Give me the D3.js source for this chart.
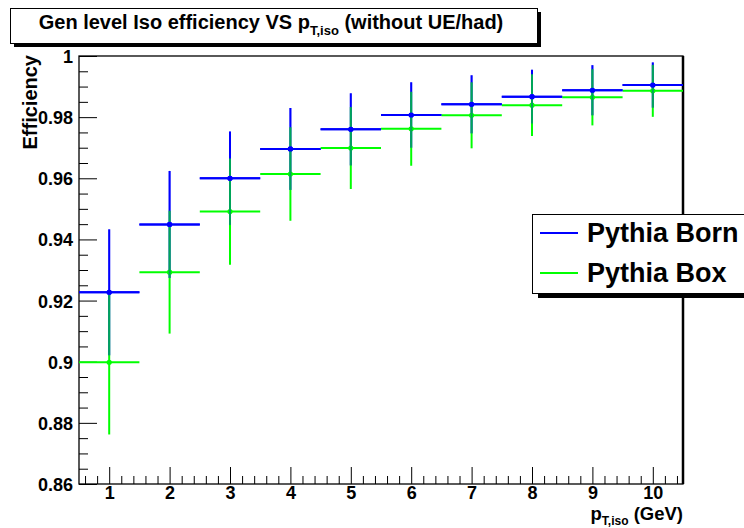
<!DOCTYPE html>
<html>
<head>
<meta charset="utf-8">
<script src="https://cdn.jsdelivr.net/npm/d3@7"></script>
<style>
  html, body { margin: 0; padding: 0; background: #fff; }
  svg { display: block; }
  text { font-family: "Liberation Sans", Arial, Helvetica, sans-serif; font-weight: bold; }
</style>
</head>
<body>
<svg id="chart" width="744" height="528"></svg>
<script>
// ---- data ----
const ptBins = [1, 2, 3, 4, 5, 6, 7, 8, 9, 10];
const bornValues = [0.9227, 0.9449, 0.9600, 0.9696, 0.9760, 0.9807, 0.9842, 0.9867, 0.9888, 0.9905];
const bornErrors = [0.0206, 0.0175, 0.0153, 0.0134, 0.0118, 0.0107, 0.0095, 0.0088, 0.0082, 0.0074];
const boxValues  = [0.8998, 0.9293, 0.9491, 0.9614, 0.9699, 0.9762, 0.9806, 0.9839, 0.9865, 0.9886];
const boxErrors  = [0.0236, 0.0201, 0.0174, 0.0153, 0.0134, 0.0121, 0.0108, 0.0101, 0.0092, 0.0085];
const binHalfWidth = 0.5;
const yTickValues = [0.86, 0.88, 0.90, 0.92, 0.94, 0.96, 0.98, 1.00];
const yTickLabels = ["0.86", "0.88", "0.9", "0.92", "0.94", "0.96", "0.98", "1"];
const xTickLabels = ["1", "2", "3", "4", "5", "6", "7", "8", "9", "10"];
const seriesNames = ["Pythia Born", "Pythia Box"];
const seriesColors = ["#0000ff", "#00ff00"];

// ---- layout ----
const svg = d3.select("#chart");
const L = 79, R = 683, T = 56, B = 484;
const x = d3.scaleLinear().domain([0.5, 10.5]).range([L, R]);
const y = d3.scaleLinear().domain([0.86, 1.0]).range([B, T]);

// title box with shadow
svg.append("rect").attr("x", 14).attr("y", 12).attr("width", 527).attr("height", 35).attr("fill", "#000");
svg.append("rect").attr("x", 10.5).attr("y", 8.5).attr("width", 527).attr("height", 35)
  .attr("fill", "#fff").attr("stroke", "#000").attr("stroke-width", 1);
const title = svg.append("text").attr("x", 271).attr("y", 29).attr("text-anchor", "middle")
  .attr("font-size", 20).attr("fill", "#000");
title.append("tspan").text("Gen level Iso efficiency VS p");
title.append("tspan").attr("font-size", 13).attr("dy", 6).text("T,iso");
title.append("tspan").attr("dy", -6).text(" (without UE/had)");

// axes
const minorX = d3.range(0.6, 10.5, 0.2).filter(v => Math.abs(v - Math.round(v)) > 0.05);
const minorY = d3.range(0.865, 1.0, 0.005).filter(v => Math.abs(v * 50 - Math.round(v * 50)) > 0.01);

const xAxis = svg.append("g").attr("transform", `translate(0,${B})`)
  .call(d3.axisBottom(x).tickValues(ptBins).tickFormat((d, i) => xTickLabels[i])
    .tickSizeInner(-17).tickSizeOuter(0).tickPadding(0));
xAxis.select(".domain").remove();
xAxis.selectAll("text").attr("font-size", 18).attr("y", 15).attr("dy", 0)
  .attr("font-family", "Liberation Sans, Arial, sans-serif").attr("font-weight", "bold");
const xMinor = svg.append("g").attr("transform", `translate(0,${B})`)
  .call(d3.axisBottom(x).tickValues(minorX).tickFormat("").tickSizeInner(-8).tickSizeOuter(0));
xMinor.select(".domain").remove();

const yAxis = svg.append("g").attr("transform", `translate(${L},0)`)
  .call(d3.axisLeft(y).tickValues(yTickValues).tickFormat((d, i) => yTickLabels[i])
    .tickSizeInner(-18).tickSizeOuter(0).tickPadding(6));
yAxis.select(".domain").remove();
yAxis.selectAll("text").attr("font-size", 18).attr("dy", "0.36em")
  .attr("font-family", "Liberation Sans, Arial, sans-serif").attr("font-weight", "bold");
const yMinor = svg.append("g").attr("transform", `translate(${L},0)`)
  .call(d3.axisLeft(y).tickValues(minorY).tickFormat("").tickSizeInner(-9).tickSizeOuter(0));
yMinor.select(".domain").remove();

// frame
svg.append("rect").attr("x", L).attr("y", T).attr("width", R - L).attr("height", B - T)
  .attr("fill", "none").attr("stroke", "#000").attr("stroke-width", 1.3);
svg.append("line").attr("x1", R).attr("x2", R).attr("y1", T).attr("y2", B)
  .attr("stroke", "#000").attr("stroke-width", 2.5);

// axis titles
const xt = svg.append("text").attr("x", R).attr("y", 520).attr("text-anchor", "end")
  .attr("font-size", 18.5).attr("fill", "#000");
xt.append("tspan").text("p");
xt.append("tspan").attr("font-size", 12).attr("dy", 5).text("T,iso");
xt.append("tspan").attr("dy", -5).text(" (GeV)");

svg.append("text").attr("transform", `translate(37,${T - 1}) rotate(-90)`).attr("text-anchor", "end")
  .attr("font-size", 20).attr("fill", "#000").text("Efficiency");

// data
const series = [
  { name: seriesNames[0], color: seriesColors[0], vals: bornValues, errs: bornErrors },
  { name: seriesNames[1], color: seriesColors[1], vals: boxValues, errs: boxErrors }
];
const plot = svg.append("g");
function drawSeries(s, parts, opacity) {
  const g = plot.append("g").attr("opacity", opacity);
  const pts = ptBins.map((b, i) => ({ b, v: s.vals[i], e: s.errs[i] }));
  if (parts.includes("v")) {
    g.selectAll("line.v").data(pts).enter().append("line")
      .attr("x1", d => x(d.b)).attr("x2", d => x(d.b))
      .attr("y1", d => y(d.v + d.e)).attr("y2", d => y(d.v - d.e))
      .attr("stroke", s.color).attr("stroke-width", 2);
  }
  if (parts.includes("h")) {
    g.selectAll("line.h").data(pts).enter().append("line")
      .attr("x1", d => x(d.b - binHalfWidth)).attr("x2", d => x(d.b + binHalfWidth))
      .attr("y1", d => y(d.v)).attr("y2", d => y(d.v))
      .attr("stroke", s.color).attr("stroke-width", 2);
    g.selectAll("circle").data(pts).enter().append("circle")
      .attr("cx", d => x(d.b)).attr("cy", d => y(d.v)).attr("r", 2.6)
      .attr("fill", s.color);
  }
}
drawSeries(series[0], "vh", 1);
drawSeries(series[1], "vh", 1);
drawSeries(series[0], "v", 0.35);
drawSeries(series[0], "h", 1);

// legend
const lg = svg.append("g");
lg.append("rect").attr("x", 538).attr("y", 219).attr("width", 220).attr("height", 79).attr("fill", "#000");
lg.append("rect").attr("x", 532.5).attr("y", 214.5).attr("width", 220).attr("height", 79)
  .attr("fill", "#fff").attr("stroke", "#000").attr("stroke-width", 1);
series.forEach((s, i) => {
  const cy = 233 + i * 40;
  lg.append("line").attr("x1", 540).attr("x2", 578).attr("y1", cy).attr("y2", cy)
    .attr("stroke", s.color).attr("stroke-width", 2);
  lg.append("text").attr("x", 587).attr("y", cy + 9).attr("font-size", 27).attr("fill", "#000").text(s.name);
});
</script>
</body>
</html>
